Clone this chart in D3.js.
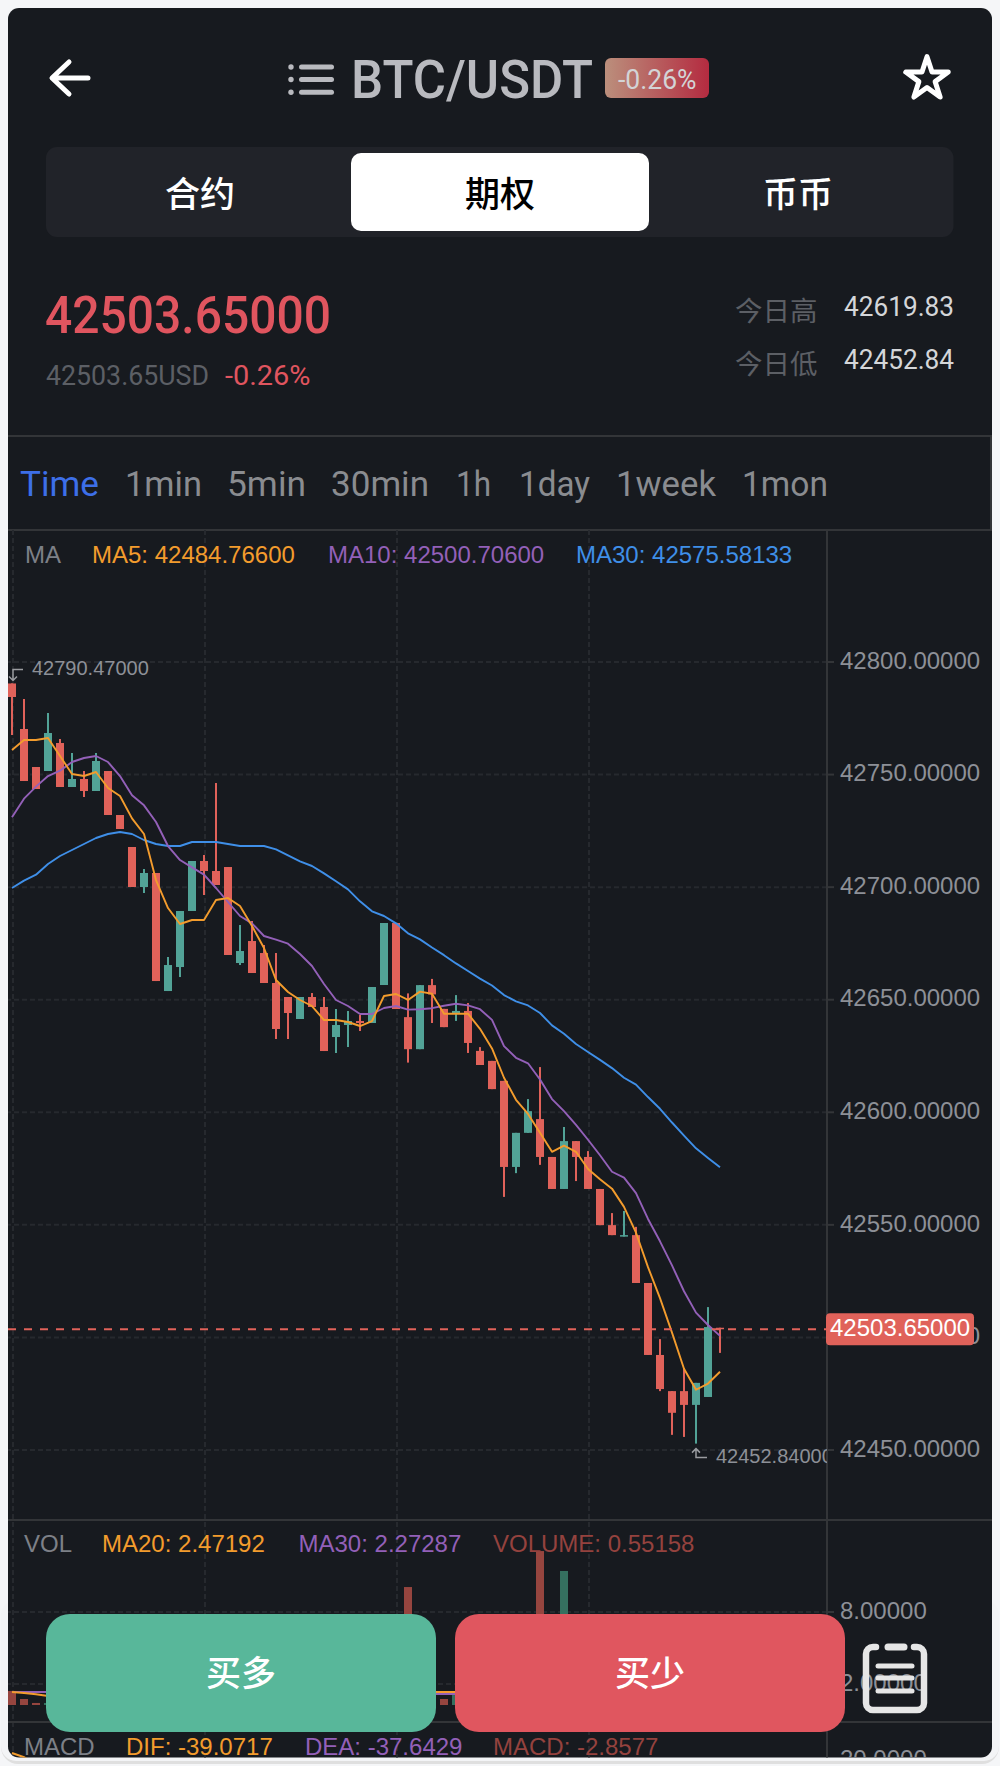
<!DOCTYPE html>
<html lang="zh">
<head>
<meta charset="utf-8">
<title>BTC/USDT</title>
<script src="https://cdn.jsdelivr.net/npm/d3@7/dist/d3.min.js"></script>
<style>
html,body{margin:0;padding:0;background:#f5f6f8;}
svg{display:block;}
</style>
</head>
<body>
<svg id="c" width="1000" height="1766"></svg>
<script>
// ---------- data ----------
const candleOpen = [42790.47,42770.24,42753.36,42751.58,42764.02,42744.48,42748.03,42742.7,42751.58,42732.04,
42717.83,42700.06,42706.28,42653.86,42664.52,42689.4,42711.61,42707.17,42708.94,42666.3,
42676.07,42670.74,42657.42,42651.2,42641.43,42651.2,42646.76,42633.43,42638.76,42640.54,
42639.65,42656.53,42684.07,42642.26,42628.03,42656.48,42645.93,42643.79,42645.01,42627.27,
42622.83,42613.96,42575.72,42590.87,42596.98,42580.16,42565.94,42587.2,42580.16,42565.94,
42549.88,42544.83,42545.44,42524.18,42492.21,42476.15,42476.15,42470.03,42473.55,42504.3];
const candleClose = [42784.45,42747.14,42743.59,42768.46,42744.48,42748.03,42742.7,42756.03,42732.04,42725.82,
42700.06,42706.28,42658.3,42665.41,42689.4,42711.61,42707.17,42700.95,42669.86,42671.63,
42661.86,42657.42,42636.99,42644.09,42651.2,42646.76,42627.21,42638.76,42640.54,42639.65,
42655.64,42684.07,42645.87,42628.03,42656.48,42652.35,42637.82,42645.01,42630.79,42621.0,
42610.29,42575.72,42590.87,42600.5,42580.16,42565.94,42587.2,42580.16,42565.94,42549.88,
42545.44,42545.44,42524.18,42492.21,42477.07,42466.52,42470.03,42479.82,42504.6,42503.65];
const candleHigh = [42790.47,42783.57,42753.36,42777.35,42765.8,42759.58,42751.58,42759.58,42751.58,42732.04,
42717.83,42708.05,42706.28,42668.97,42689.4,42711.61,42714.27,42746.25,42708.94,42683.18,
42684.96,42674.3,42670.74,42651.2,42651.2,42652.97,42651.2,42645.87,42644.98,42643.2,
42655.64,42684.07,42684.07,42652.81,42656.48,42659.24,42645.93,42652.05,42648.53,42628.95,
42622.83,42613.96,42590.87,42605.86,42620.08,42580.16,42593.47,42587.2,42582.76,42565.94,
42555.23,42556.15,42549.11,42524.18,42499.25,42476.15,42485.94,42479.82,42513.47,42504.3];
const candleLow = [42767.57,42747.14,42743.59,42751.58,42744.48,42744.48,42740.04,42742.7,42732.04,42725.82,
42700.06,42697.4,42658.3,42653.86,42660.08,42689.4,42696.51,42700.95,42669.86,42665.41,
42661.86,42657.42,42632.55,42632.55,42641.43,42646.76,42627.21,42626.33,42628.99,42636.1,
42639.65,42656.53,42645.87,42622.07,42628.03,42639.66,42637.82,42640.58,42626.35,42621.0,
42610.29,42562.42,42572.97,42590.87,42576.64,42565.94,42565.94,42569.45,42565.94,42549.88,
42545.44,42544.83,42524.18,42492.21,42476.15,42456.73,42455.81,42452.84,42473.55,42493.13];
const ma5 = [42760.91,42765.35,42765.35,42766.24,42758.25,42750.25,42749.36,42751.14,42744.03,42740.48,
42730.56,42723.6,42703.17,42690.73,42683.62,42685.4,42685.4,42694.28,42695.17,42691.62,
42682.74,42672.96,42658.75,42653.42,42649.87,42647.2,42640.98,42640.98,42640.1,42638.32,
42640.54,42651.64,42652.53,42649.9,42653.58,42652.66,42643.79,42643.79,42643.79,42637.06,
42628.34,42615.34,42605.55,42599.28,42590.87,42582.45,42585.21,42582.45,42574.81,42570.22,
42566.09,42557.98,42546.51,42531.22,42517.45,42502.15,42486.09,42476.76,42479.52,42484.766];
const ma10 = [42731.0,42739.3,42744.63,42749.36,42751.73,42755.58,42757.36,42758.25,42755.58,42749.36,
42740.78,42736.33,42728.93,42718.27,42712.05,42708.79,42705.54,42699.62,42693.4,42687.18,
42683.92,42678.29,42676.67,42674.89,42670.3,42664.97,42656.97,42649.87,42647.2,42643.65,
42643.65,42646.31,42647.2,42645.62,42645.78,42646.24,42647.31,42648.22,42647.46,42645.78,
42641.04,42629.41,42624.21,42621.76,42614.57,42605.86,42600.5,42594.39,42587.81,42580.92,
42573.58,42570.98,42564.1,42552.63,42542.69,42531.98,42520.51,42511.02,42505.52,42500.706];
const ma30 = [42699.62,42702.87,42705.54,42710.28,42713.83,42716.5,42719.16,42721.82,42723.6,42724.49,
42723.6,42720.94,42719.16,42718.27,42718.27,42720.05,42720.05,42720.05,42719.16,42718.27,
42718.27,42718.27,42716.79,42714.12,42711.46,42709.39,42706.13,42702.58,42699.02,42693.69,
42689.25,42687.18,42683.92,42679.48,42676.81,42673.16,42669.79,42666.12,42662.75,42659.39,
42656.33,42652.05,42649.29,42647.46,42644.09,42638.59,42634.92,42630.33,42626.81,42623.29,
42619.62,42615.34,42612.28,42606.77,42601.57,42595.46,42589.64,42583.98,42579.7,42575.58133];
const priceTicks = [42800,42750,42700,42650,42600,42550,42500,42450];
const volumes = [1.42,0.75,0.42,0.42,0.9,0.6,0.8,1.1,1.6,0.7,
1.8,0.9,5.2,1.7,3.1,2.4,1.3,3.8,3.4,1.2,
2.1,1.4,3.2,1.5,1.1,0.8,2.6,1.7,1.4,0.9,
2.3,3.6,5.9,10.08,4.4,2.2,0.75,1.08,2.5,0.9,
1.2,6.8,2.4,1.9,13.08,2.2,11.42,2.3,2.6,1.7,
1.1,0.9,3.3,4.8,3.1,2.4,3.6,4.2,5.7,0.55158];
const volMa20 = [1.33,1.25,1.15,1.0,1.02,1.05,1.08,1.1,1.12,1.15,
1.18,1.2,1.22,1.24,1.26,1.28,1.3,1.3,1.31,1.31,
1.32,1.32,1.32,1.33,1.33,1.33,1.33,1.33,1.33,1.33,
1.33,1.33,1.33,1.33,1.33,1.33,1.33,1.33,1.38,1.44,
1.5,1.58,1.66,1.74,1.82,1.9,1.98,2.04,2.1,2.16,
2.22,2.26,2.3,2.34,2.37,2.4,2.42,2.44,2.46,2.47192];
const volMa30 = [1.33,1.33,1.33,1.33,1.32,1.32,1.31,1.31,1.3,1.3,
1.29,1.29,1.28,1.28,1.27,1.27,1.26,1.26,1.25,1.25,
1.24,1.24,1.23,1.23,1.22,1.22,1.21,1.21,1.2,1.2,
1.19,1.19,1.18,1.18,1.17,1.17,1.17,1.17,1.2,1.24,
1.28,1.33,1.38,1.44,1.5,1.56,1.62,1.68,1.74,1.8,
1.86,1.92,1.98,2.03,2.08,2.12,2.16,2.2,2.24,2.27287];
const volTicks = [8,2];
const volBase = 0.25;
const macdDif = [23.5,21.4,18];
const macdTicks = [20];
const periodTabs = ["Time","1min","5min","30min","1h","1day","1week","1mon"];
const marketTabs = ["合约","期权","币币"];

// ---------- palette ----------
const CARD="#171a1f", RED="#e0625a", GREEN="#52a397", LINE="#333538", GRID="#26292e",
      ORANGE="#f39c2d", PURPLE="#9360b8", BLUE="#3f8fe8", AXIS="#8d9097";
const DIN="Roboto, 'Noto Sans', sans-serif", SANS="'Liberation Sans', Arial, sans-serif",
      CJK="'Noto Sans CJK SC', sans-serif";

const svg = d3.select("#c");
const defs = svg.append("defs");
defs.append("clipPath").attr("id","cardClip").append("rect")
  .attr("x",8).attr("y",8).attr("width",984).attr("height",1749.5).attr("rx",11);
defs.append("clipPath").attr("id","plotClip").append("rect")
  .attr("x",8).attr("y",530).attr("width",819).attr("height",1228);
const grad = defs.append("linearGradient").attr("id","badge");
grad.append("stop").attr("offset","0").attr("stop-color","#bb8f7c");
grad.append("stop").attr("offset","1").attr("stop-color","#b42b40");

// paper edge below the card
svg.append("rect").attr("x",1).attr("y",1680).attr("width",998).attr("height",84).attr("rx",17).attr("fill","#dfdfdf");
svg.append("rect").attr("x",1).attr("y",1600).attr("width",998).attr("height",161).attr("rx",15).attr("fill","#f3f4f6");
svg.append("rect").attr("x",8).attr("y",8).attr("width",984).attr("height",1749.5).attr("rx",11).attr("fill",CARD);

const root = svg.append("g").attr("clip-path","url(#cardClip)");

function label(parent,x,y,str,o){
  const t = parent.append("text").attr("x",x).attr("y",y).text(str)
    .attr("font-family",o.family||DIN).attr("font-size",o.size).attr("fill",o.fill)
    .attr("font-weight",o.weight||400).attr("text-anchor",o.anchor||"start");
  if(o.width) t.attr("textLength",o.width).attr("lengthAdjust","spacingAndGlyphs");
  return t;
}

// ---------- header ----------
const head = root.append("g");
head.append("path").attr("d","M88 78H54M69 62L52 78L69 94").attr("fill","none")
  .attr("stroke","#fff").attr("stroke-width",5).attr("stroke-linecap","round").attr("stroke-linejoin","round");
[67,79.5,92.3].forEach(cy=>{
  head.append("circle").attr("cx",291).attr("cy",cy).attr("r",2.7).attr("fill","#b9babf");
  head.append("rect").attr("x",299).attr("y",cy-2.5).attr("width",35).attr("height",5).attr("rx",2.5).attr("fill","#b9babf");
});
label(head,351,97.5,"BTC/USDT",{size:53.5,weight:500,fill:"#b9babf",width:242});
head.append("rect").attr("x",605).attr("y",58).attr("width",104).attr("height",40).attr("rx",6).attr("fill","url(#badge)");
label(head,618,89,"-0.26%",{size:27.5,fill:"#d3d4d6",width:78.5});
head.append("path").attr("d",d3.symbol(d3.symbolStar,560)()).attr("transform","translate(927,79)")
  .attr("fill","none").attr("stroke","#fff").attr("stroke-width",5).attr("stroke-linejoin","round");

// market tabs
head.append("rect").attr("x",46).attr("y",147).attr("width",907.5).attr("height",90).attr("rx",11).attr("fill","#212329");
head.append("rect").attr("x",351).attr("y",153).attr("width",298).attr("height",78).attr("rx",10).attr("fill","#fff");
marketTabs.forEach((s,i)=>label(head,[200,500,798][i],207,s,
  {family:CJK,size:35,weight:500,fill:i===1?"#000":"#fff",anchor:"middle"}));

// price block
label(head,45,333,"42503.65000",{size:52,weight:500,fill:"#e0555f",width:286});
label(head,46,385,"42503.65USD",{size:28,fill:"#5c5f65",width:163});
label(head,225,385,"-0.26%",{size:28,fill:"#e0555f",width:85.5});
label(head,735,321,"今日高",{family:CJK,size:27.5,fill:"#5c5f65"});
label(head,735,374,"今日低",{family:CJK,size:27.5,fill:"#5c5f65"});
label(head,844,316,"42619.83",{size:28,fill:"#d4d6d9",width:110});
label(head,844,369,"42452.84",{size:28,fill:"#d4d6d9",width:110});

// period tabs
root.append("rect").attr("x",8).attr("y",435).attr("width",984).attr("height",2).attr("fill",LINE);
root.append("rect").attr("x",8).attr("y",529).attr("width",984).attr("height",2).attr("fill",LINE);
root.append("rect").attr("x",990).attr("y",435).attr("width",2).attr("height",95).attr("fill",LINE);
const tabX=[20,125,227,331,456,519,616,742], tabW=[79,77,79,98,35,71,100,86];
periodTabs.forEach((s,i)=>label(root,tabX[i],496,s,{size:35,fill:i===0?"#3d6fe8":"#8a8c90",width:tabW[i]}));

// ---------- scales ----------
const x = d3.scaleLinear().domain([0,59]).range([12,720]);
const y = d3.scaleLinear().domain([42450,42800]).range([1450,662]);
const yVol = d3.scaleLinear().domain([0,8]).range([1708,1612]);
const yMacd = d3.scaleLinear().domain([-40,20]).range([1880,1760]);
const idx = d3.range(candleOpen.length);

// ---------- grid ----------
const gridG = root.append("g");
function styleGrid(g){
  g.select(".domain").remove();
  g.selectAll("text").remove();
  g.selectAll("line").attr("stroke",GRID).attr("stroke-width",2).attr("stroke-dasharray","5 3");
}
gridG.append("g").attr("transform","translate(827,0)")
  .call(d3.axisLeft(y).tickValues(priceTicks).tickSize(819).tickFormat("").offset(0)).call(styleGrid);
gridG.append("g").attr("transform","translate(827,0)")
  .call(d3.axisLeft(yVol).tickValues(volTicks).tickSize(819).tickFormat("").offset(0)).call(styleGrid);
gridG.append("g").attr("transform","translate(0,530)")
  .call(d3.axisBottom(x).tickValues([0,16,32,48]).tickSize(1228).tickFormat("").offset(1)).call(styleGrid);

// separators + axis line
root.append("rect").attr("x",8).attr("y",1519).attr("width",984).attr("height",2).attr("fill",LINE);
root.append("rect").attr("x",8).attr("y",1721).attr("width",984).attr("height",2).attr("fill",LINE);
root.append("rect").attr("x",826).attr("y",530).attr("width",2).attr("height",1228).attr("fill",LINE);

// ---------- plots ----------
const plot = root.append("g").attr("clip-path","url(#plotClip)");
const isUp = i => candleClose[i] >= candleOpen[i];

// wicks and bodies
plot.append("g").selectAll("rect").data(idx).join("rect")
  .attr("x",i=>x(i)-1).attr("width",2)
  .attr("y",i=>y(candleHigh[i]))
  .attr("height",i=>y(candleLow[i])-y(candleHigh[i]))
  .attr("fill",i=>isUp(i)?GREEN:RED);
plot.append("g").selectAll("rect").data(idx).join("rect")
  .attr("x",i=>x(i)-4).attr("width",8)
  .attr("y",i=>y(Math.max(candleOpen[i],candleClose[i])))
  .attr("height",i=>Math.max(1.5,Math.abs(y(candleOpen[i])-y(candleClose[i]))))
  .attr("fill",i=>isUp(i)?GREEN:RED);

// moving averages
const priceLine = d3.line().x((d,i)=>x(i)).y(d=>y(d));
[[ma30,BLUE],[ma10,PURPLE],[ma5,ORANGE]].forEach(([s,c])=>
  plot.append("path").attr("d",priceLine(s)).attr("fill","none").attr("stroke",c)
    .attr("stroke-width",1.9).attr("stroke-linejoin","round"));

// high / low markers
const high = d3.max(candleHigh), low = d3.min(candleLow);
const marks = plot.append("g").attr("fill","none").attr("stroke","#9a9ca0").attr("stroke-width",1.5);
marks.append("path").attr("d",`M${x(0)+11} ${y(high)-14}H${x(0)+1}V${y(high)-3}M${x(0)-3} ${y(high)-7}L${x(0)+1} ${y(high)-3}L${x(0)+5} ${y(high)-7}`);
marks.append("path").attr("d",`M${x(57)+11} ${y(low)+14}H${x(57)}V${y(low)+5}M${x(57)-4} ${y(low)+9}L${x(57)} ${y(low)+5}L${x(57)+4} ${y(low)+9}`);
label(plot,x(0)+20,y(high)-8.5,high.toFixed(5),{family:SANS,size:20,fill:AXIS});
label(plot,x(57)+20,y(low)+19.5,low.toFixed(5),{family:SANS,size:20,fill:AXIS});

// volume
plot.append("g").selectAll("rect").data(idx).join("rect")
  .attr("x",i=>x(i)-4).attr("width",8)
  .attr("y",i=>yVol(volumes[i]))
  .attr("height",i=>yVol(volBase)-yVol(volumes[i]))
  .attr("fill",i=>isUp(i)?"#35705f":"#96453f");
const volLine = d3.line().x((d,i)=>x(i)).y(d=>yVol(d));
plot.append("path").attr("d",volLine(volMa30)).attr("fill","none").attr("stroke",PURPLE).attr("stroke-width",2);
plot.append("path").attr("d",volLine(volMa20)).attr("fill","none").attr("stroke",ORANGE).attr("stroke-width",2);

// MACD (only its first points are inside the frame)
plot.append("path").attr("d",d3.line().x((d,i)=>x(i)).y(d=>yMacd(d))(macdDif))
  .attr("fill","none").attr("stroke",ORANGE).attr("stroke-width",2);

// axes
function styleAxis(g){
  g.select(".domain").remove();
  g.selectAll("line").attr("stroke",LINE).attr("stroke-width",2);
  g.selectAll("text").attr("fill",AXIS).attr("font-family",SANS).attr("font-size",24).attr("y",-1);
}
const axes = root.append("g").attr("transform","translate(827,0)");
axes.append("g").call(d3.axisRight(y).tickValues(priceTicks).tickSize(7).tickPadding(6).offset(0).tickFormat(d=>d.toFixed(5))).call(styleAxis);
axes.append("g").call(d3.axisRight(yVol).tickValues(volTicks).tickSize(7).tickPadding(6).offset(0).tickFormat(d=>d.toFixed(5))).call(styleAxis);
axes.append("g").call(d3.axisRight(yMacd).tickValues(macdTicks).tickSize(0).tickPadding(13).offset(0).tickFormat(d=>d.toFixed(4))).call(styleAxis);

// last price line + tag
const last = candleClose[candleClose.length-1];
root.append("line").attr("x1",8).attr("x2",826).attr("y1",y(last)).attr("y2",y(last))
  .attr("stroke",RED).attr("stroke-width",2).attr("stroke-dasharray","8 8");
root.append("rect").attr("x",826).attr("y",y(last)-16).attr("width",148).attr("height",32).attr("rx",4).attr("fill",RED);
label(root,830,y(last)+7,last.toFixed(5),{family:SANS,size:24,fill:"#fff"});

// legends
const legend = (px,base,s,c)=>label(root,px,base,s,{family:SANS,size:24,fill:c});
legend(25,563,"MA","#7d8087");
legend(92,563,"MA5: 42484.76600",ORANGE);
legend(328,563,"MA10: 42500.70600",PURPLE);
legend(576,563,"MA30: 42575.58133",BLUE);
legend(24,1552,"VOL","#7d8087");
legend(102,1552,"MA20: 2.47192",ORANGE);
legend(298.5,1552,"MA30: 2.27287",PURPLE);
legend(493,1552,"VOLUME: 0.55158","#94423e");
legend(24,1755,"MACD","#7d8087");
legend(126,1755,"DIF: -39.0717",ORANGE);
legend(305,1755,"DEA: -37.6429",PURPLE);
legend(493,1755,"MACD: -2.8577","#94423e");

// ---------- floating buttons ----------
root.append("rect").attr("x",46).attr("y",1614).attr("width",390).attr("height",118).attr("rx",24).attr("fill","#58b79a");
root.append("rect").attr("x",455).attr("y",1614).attr("width",390).attr("height",118).attr("rx",24).attr("fill","#e0565f");
label(root,241,1686,"买多",{family:CJK,size:35,weight:500,fill:"#fff",anchor:"middle"});
label(root,650,1686,"买少",{family:CJK,size:35,weight:500,fill:"#fff",anchor:"middle"});

// clipboard icon
root.append("path")
  .attr("d","M876 1647H873a7 7 0 0 0 -7 7V1703a7 7 0 0 0 7 7H917a7 7 0 0 0 7 -7V1654a7 7 0 0 0 -7 -7H914")
  .attr("fill","none").attr("stroke","#e6e6e6").attr("stroke-width",6.5).attr("stroke-linecap","round");
[[888,904,1647,7],[878,912,1666,5],[878,912,1678,5],[878,912,1691,5]].forEach(([a,b,cy,w])=>
  root.append("line").attr("x1",a).attr("x2",b).attr("y1",cy).attr("y2",cy)
    .attr("stroke","#e6e6e6").attr("stroke-width",w).attr("stroke-linecap","round"));
</script>
</body>
</html>
